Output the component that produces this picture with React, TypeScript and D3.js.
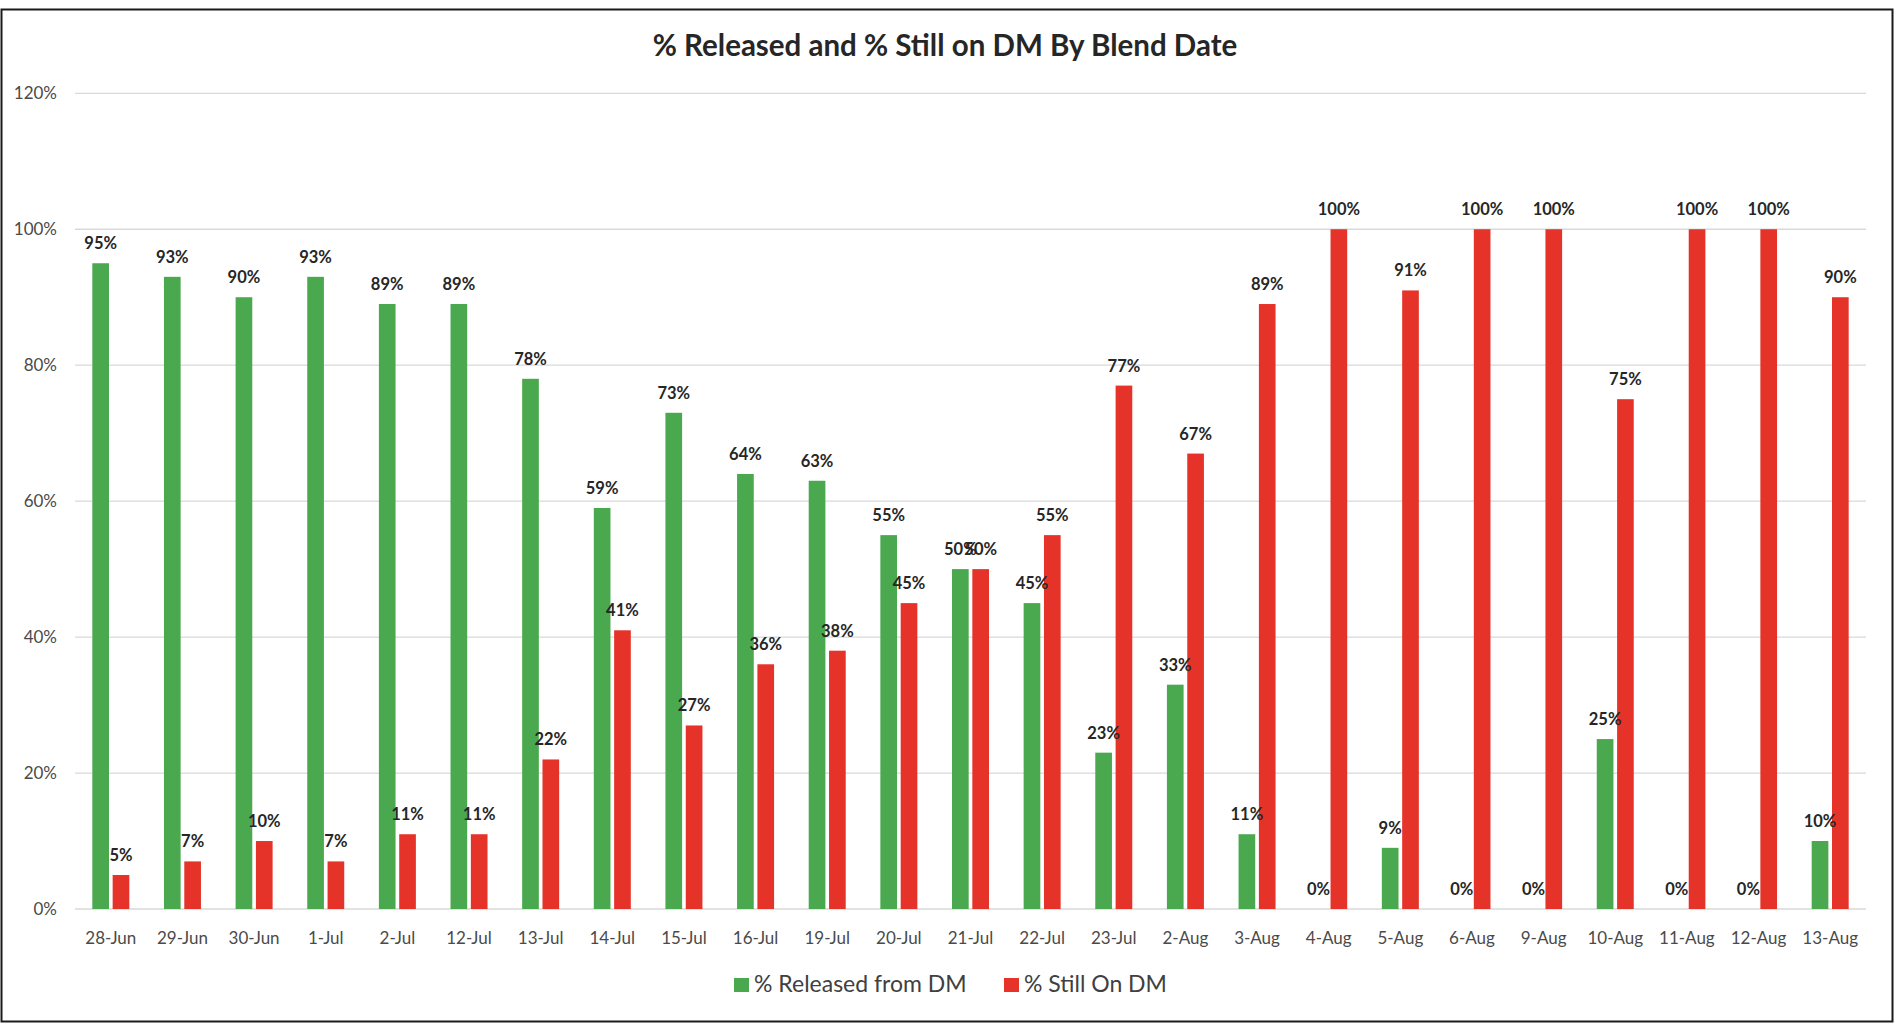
import React from "react";
import * as d3 from "d3";

const categories = ["28-Jun","29-Jun","30-Jun","1-Jul","2-Jul","12-Jul","13-Jul","14-Jul","15-Jul","16-Jul","19-Jul","20-Jul","21-Jul","22-Jul","23-Jul","2-Aug","3-Aug","4-Aug","5-Aug","6-Aug","9-Aug","10-Aug","11-Aug","12-Aug","13-Aug"];
const released = [95,93,90,93,89,89,78,59,73,64,63,55,50,45,23,33,11,0,9,0,0,25,0,0,10];
const stillOn = [5,7,10,7,11,11,22,41,27,36,38,45,50,55,77,67,89,100,91,100,100,75,100,100,90];
const yTicks = [0,20,40,60,80,100,120];
const seriesNames = ["% Released from DM","% Still On DM"];
const seriesColors = ["#4aa84e","#e63329"];
const title = "% Released and % Still on DM By Blend Date";

const W = 1900, H = 1031;
const FONT = "Lato, 'Open Sans', sans-serif";

export default function App() {
  const x = d3.scaleBand<string>().domain(categories).range([75, 1866]).paddingInner(0).paddingOuter(0);
  const bw = x.bandwidth();
  const x1 = d3.scaleBand<string>().domain(["r","s"]).range([bw/2 - 18.5, bw/2 + 18.5]).paddingInner(0.18);
  const y = d3.scaleLinear().domain([0, 120]).range([909, 93.3]);
  const series = [released, stillOn];
  const keys = ["r","s"];

  return (
    <svg width={W} height={H} style={{position:"absolute", left:0, top:0, background:"#fff"}} fontFamily={FONT}>
      <rect x={0} y={0} width={W} height={H} fill="#fff" />
      <rect x={1.5} y={9.5} width={1891} height={1012} fill="none" stroke="#1a1a1a" strokeWidth={2} />
      <text x={945} y={56} textAnchor="middle" fontSize={29.5} fontWeight={700} fill="#262626">{title}</text>
      {yTicks.map(t => (
        <g key={t}>
          <line x1={75} x2={1866} y1={y(t)} y2={y(t)} stroke="#d9d9d9" strokeWidth={1.3} />
          <text x={57} y={y(t)} dy="0.35em" textAnchor="end" fontSize={17} fill="#4a4a4a">{t + "%"}</text>
        </g>
      ))}
      {categories.map((c, i) => (
        <g key={c} transform={`translate(${x(c)},0)`}>
          {series.map((s, k) => (
            <rect key={k} x={x1(keys[k])} width={x1.bandwidth()} y={y(s[i])} height={y(0) - y(s[i])} fill={seriesColors[k]} />
          ))}
          {series.map((s, k) => (
            <text key={"l"+k} x={(x1(keys[k]) as number) + x1.bandwidth()/2} y={y(s[i]) - 14} textAnchor="middle" fontSize={16.5} fontWeight={700} fill="#262626">{s[i] + "%"}</text>
          ))}
          <text x={bw/2} y={944} textAnchor="middle" fontSize={17} fill="#4a4a4a">{c}</text>
        </g>
      ))}
      <g>
        <rect x={734} y={978} width={15} height={14} fill={seriesColors[0]} />
        <text x={754} y={992} fontSize={23} fill="#404040">{seriesNames[0]}</text>
        <rect x={1004} y={978} width={15} height={14} fill={seriesColors[1]} />
        <text x={1024} y={992} fontSize={23} fill="#404040">{seriesNames[1]}</text>
      </g>
    </svg>
  );
}
